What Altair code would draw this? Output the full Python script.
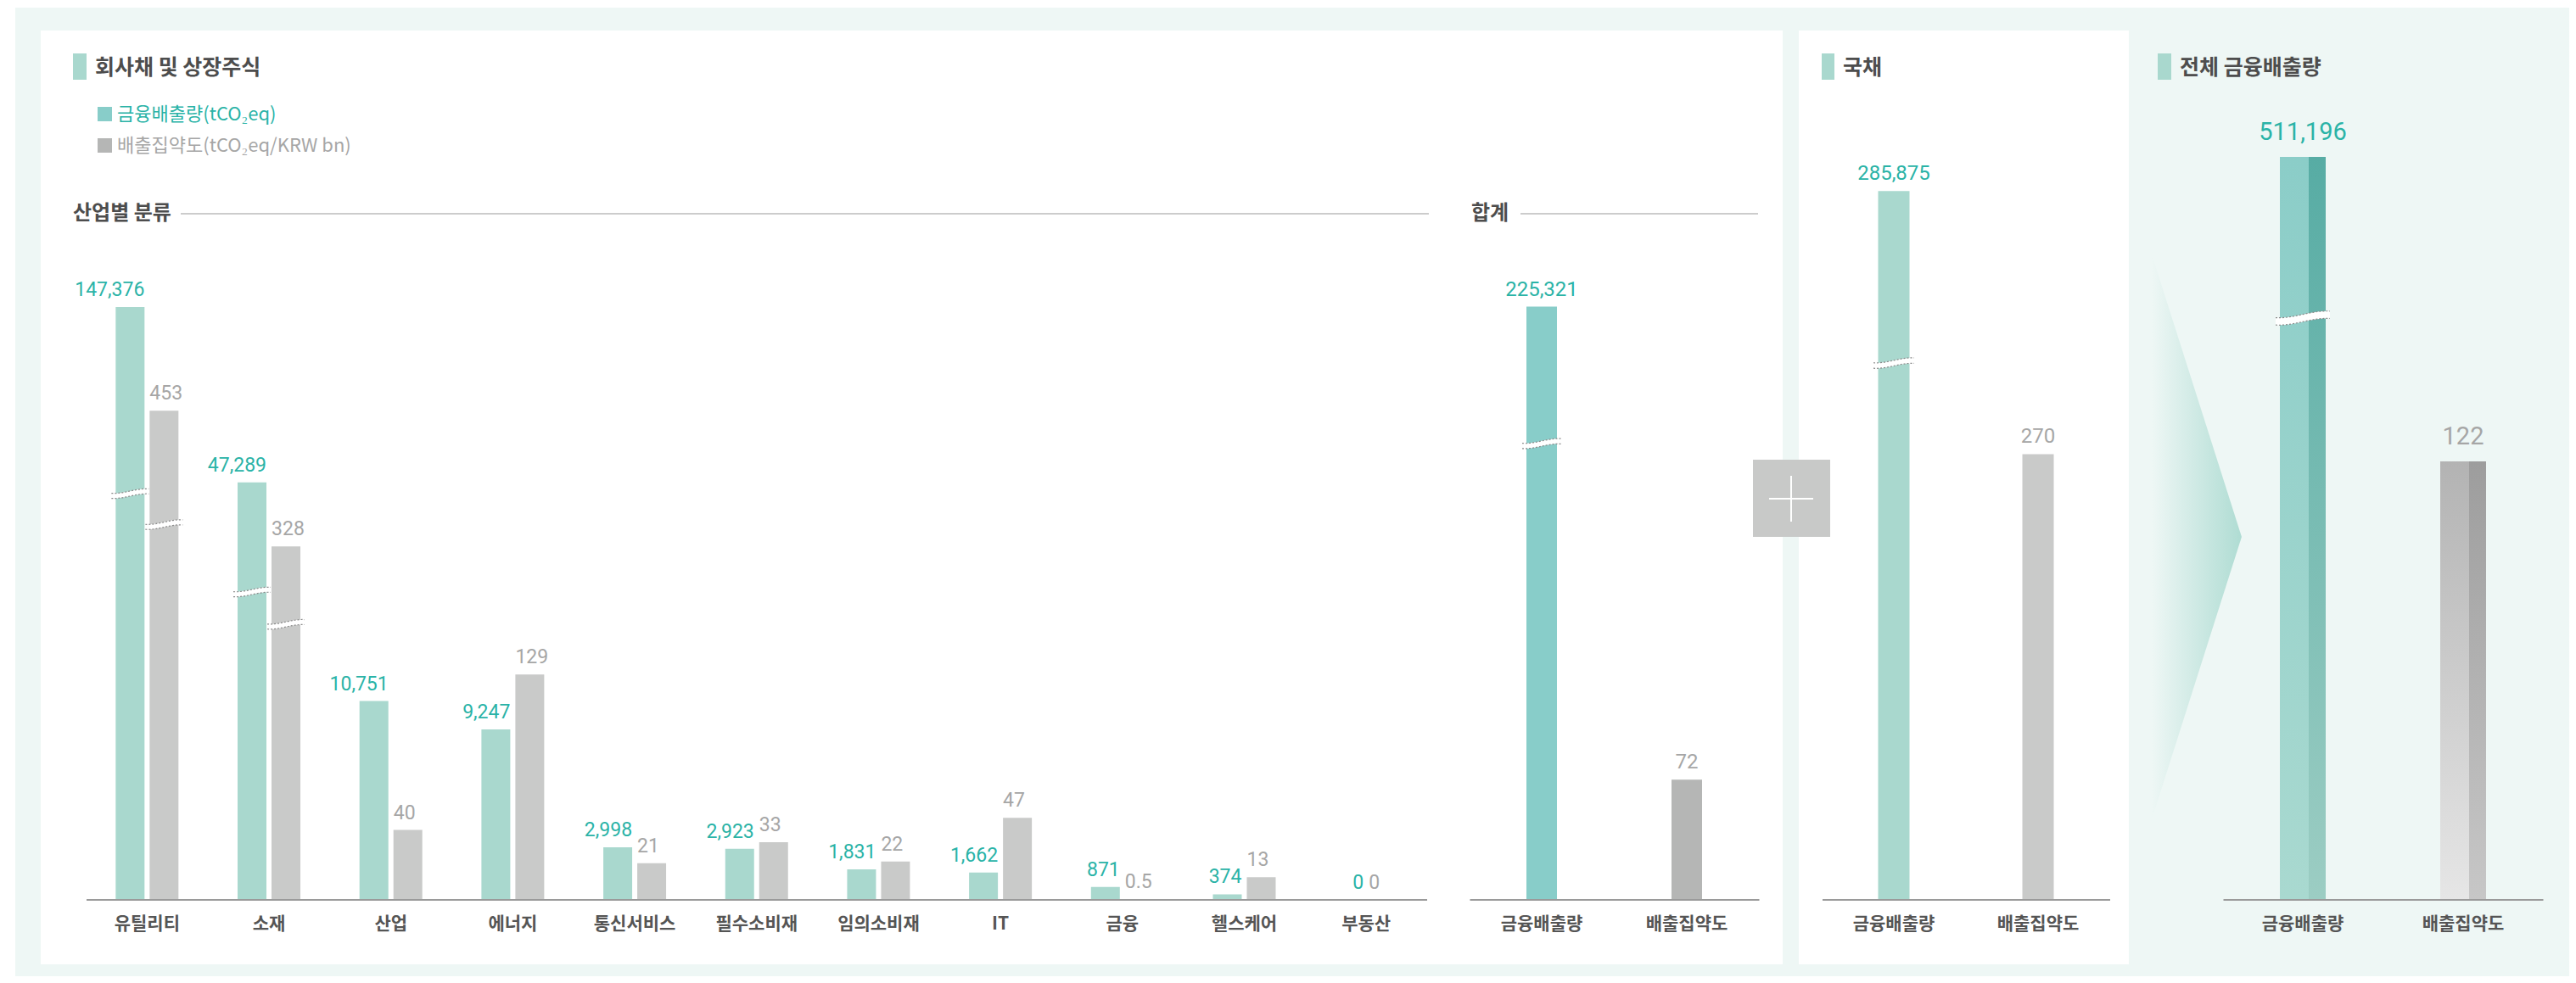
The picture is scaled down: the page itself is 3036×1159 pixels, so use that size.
import altair as alt
import pandas as pd

# ---------------- data ----------------
categories = ["유틸리티", "소재", "산업", "에너지", "통신서비스", "필수소비재",
              "임의소비재", "IT", "금융", "헬스케어", "부동산"]
emissions = [147376, 47289, 10751, 9247, 2998, 2923, 1831, 1662, 871, 374, 0]
intensity = [453, 328, 40, 129, 21, 33, 22, 47, 0.5, 13, 0]

# axis-break positions (value at which the bar is cut)
break_cats = ["유틸리티", "소재"]
break_emissions = [45400, 28700]
break_intensity = [348, 183]

measures = ["금융배출량", "배출집약도"]
corp_total = [225321, 72]
corp_total_break = 173300
gov_bonds = [285875, 270]
gov_break = 216500
overall = [511196, 122]
overall_break = 400350

# ---------------- style ----------------
W, H = 3020, 1143
def P(v):
    return v - 8

MINT_BG = "#eef7f5"
TEAL_BAR = "#a9d8ce"
GRAY_BAR = "#c9cac9"
TEAL_BAR2 = "#88cdc9"
GRAY_BAR2 = "#b5b6b5"
TEAL_TEXT = "#2ab3a7"
GRAY_TEXT = "#a6a6a6"
TITLE = "#4d4d4d"
LABEL = "#555555"
AXIS = "#9a9a9a"
SECTION = "#cccccc"
KFONT = "Noto Sans CJK KR"
NFONT = "Roboto"
BASE = 1061

BRK_FILL = "M-1,-0.015 C-0.3,0.025 0.3,-0.295 1,-0.255 L1,0.015 C0.3,-0.025 -0.3,0.295 -1,0.255 Z"
BRK_TOP = "M-1,-0.015 C-0.3,0.025 0.3,-0.295 1,-0.255"
BRK_BOT = "M-1,0.255 C-0.3,0.295 0.3,-0.025 1,0.015"
ARROW = "M-0.159,-1 L0.159,0 L-0.159,1 Z"


def rect(x1, y1, x2, y2, color):
    return alt.Chart().mark_rect(color=color).encode(
        x=alt.value(P(x1)), x2=alt.value(P(x2)), y=alt.value(P(y1)), y2=alt.value(P(y2)))


def hline(x1, x2, y, color, w=2):
    return alt.Chart().mark_rule(color=color, strokeWidth=w).encode(
        x=alt.value(P(x1)), x2=alt.value(P(x2)), y=alt.value(P(y)))


def vline(x, y1, y2, color, w=2):
    return alt.Chart().mark_rule(color=color, strokeWidth=w).encode(
        x=alt.value(P(x)), y=alt.value(P(y1)), y2=alt.value(P(y2)))


def label(txt, x, y, size, color, weight="bold", font=KFONT, align="left"):
    return alt.Chart().mark_text(text=txt, align=align, baseline="middle", font=font,
                                 fontSize=size, fontWeight=weight, color=color).encode(
        x=alt.value(P(x)), y=alt.value(P(y)))


def yscale(field, dom, heights):
    return alt.Y(field, scale=alt.Scale(domain=dom, range=[P(BASE) - h for h in heights],
                                        nice=False, zero=False), axis=None)


def breaks(df, x, y, size, xoff=0):
    fill = alt.Chart(df).mark_point(shape=BRK_FILL, filled=True, fill="white", opacity=1,
                                    size=size, strokeWidth=0, xOffset=xoff).encode(x=x, y=y)
    top = alt.Chart(df).mark_point(shape=BRK_TOP, filled=False, stroke="#8a8a8a", opacity=1,
                                   strokeDash=[2, 2], strokeWidth=1.2, size=size,
                                   xOffset=xoff).encode(x=x, y=y)
    bot = alt.Chart(df).mark_point(shape=BRK_BOT, filled=False, stroke="#8a8a8a", opacity=1,
                                   strokeDash=[2, 2], strokeWidth=1.2, size=size,
                                   xOffset=xoff).encode(x=x, y=y)
    return [fill, top, bot]


layers = []

# ---------------- backgrounds ----------------
layers += [
    rect(18, 9, 3028, 1158, MINT_BG),
    rect(48, 36, 2101, 1137, "white"),
    rect(2120, 36, 2509, 1137, "white"),
]

# arrow
arrow_grad = alt.LinearGradient(gradient="linear", x1=0, x2=1, y1=0, y2=0,
                                stops=[alt.GradientStop(color="#eef7f5", offset=0),
                                       alt.GradientStop(color="#afdcd3", offset=1)])
layers.append(alt.Chart().mark_point(shape=ARROW, filled=True, fill=arrow_grad, opacity=1,
                                     strokeWidth=0, size=666 ** 2).encode(
    x=alt.value(P(2589)), y=alt.value(P(633))))

# titles
layers += [
    rect(86, 63, 102, 94, TEAL_BAR), label("회사채 및 상장주식", 112, 80, 25, TITLE),
    rect(2147, 63, 2162, 94, TEAL_BAR), label("국채", 2172, 80, 25, TITLE),
    rect(2543, 63, 2559, 94, TEAL_BAR), label("전체 금융배출량", 2569, 80, 25, TITLE),
]

# legend
layers += [
    rect(115, 126, 132, 143, TEAL_BAR2), label("금융배출량(tCO₂eq)", 138, 135, 22, TEAL_TEXT, "normal"),
    rect(115, 163, 132, 180, GRAY_BAR2), label("배출집약도(tCO₂eq/KRW bn)", 138, 172, 22, GRAY_TEXT, "normal"),
]

# section headers
layers += [
    label("산업별 분류", 86, 252, 24, TITLE), hline(213, 1684, 252, SECTION),
    label("합계", 1734, 252, 24, TITLE), hline(1792, 2072, 252, SECTION),
]

# ---------------- industry bars ----------------
ind = pd.DataFrame({"category": categories, "emissions": emissions, "intensity": intensity})
brk = pd.DataFrame({"category": break_cats, "emissions": break_emissions, "intensity": break_intensity})

x_ind = alt.X("category:N", sort=categories,
              scale=alt.Scale(type="band", domain=categories, range=[P(101.5), P(1682)],
                              paddingInner=0, paddingOuter=0), axis=None)
y_em = yscale("emissions:Q", [0, 1000, 11000, 50000, 150000], [0, 17.5, 240, 511, 704])
y_in = yscale("intensity:Q", [0, 150, 300, 500], [0, 309, 381, 637])

layers += [
    alt.Chart(ind).mark_bar(width=34, xOffset=-20, color=TEAL_BAR).encode(x=x_ind, y=y_em, y2=alt.datum(0)),
    alt.Chart(ind).mark_bar(width=34, xOffset=20, color=GRAY_BAR).encode(x=x_ind, y=y_in, y2=alt.datum(0)),
]
layers += breaks(brk, x_ind, y_em, 44 ** 2, -20)
layers += breaks(brk, x_ind, y_in, 44 ** 2, 20)
layers += [
    alt.Chart(ind).mark_text(align="right", baseline="alphabetic", dx=-3, dy=-13, font=NFONT,
                             fontSize=23, color=TEAL_TEXT).encode(
        x=x_ind, y=y_em, text=alt.Text("emissions:Q", format=",")),
    alt.Chart(ind).mark_text(align="left", baseline="alphabetic", dx=3, dy=-13, font=NFONT,
                             fontSize=23, color=GRAY_TEXT).encode(
        x=x_ind, y=y_in, text=alt.Text("intensity:Q", format=",")),
    alt.Chart(ind).mark_text(baseline="middle", font=KFONT, fontSize=21, fontWeight="bold",
                             color=LABEL).encode(x=x_ind, y=alt.value(P(1090)), text="category:N"),
    hline(102, 1682, BASE, AXIS),
]


# ---------------- totals panels ----------------
def panel(values, brk_val, xr, em_max, em_h, in_max, in_h, bw, c_em, c_in, bsize,
          fsize=24, lab_dy=-13, gradient=False):
    out = []
    xs = alt.X("measure:N", sort=measures,
               scale=alt.Scale(type="band", domain=measures, range=[P(xr[0]), P(xr[1])],
                               paddingInner=0, paddingOuter=0), axis=None)
    em = pd.DataFrame({"measure": [measures[0]], "value": [values[0]]})
    it = pd.DataFrame({"measure": [measures[1]], "value": [values[1]]})
    bk = pd.DataFrame({"measure": [measures[0]], "value": [brk_val]})
    ys_em = yscale("value:Q", [0, em_max], [0, em_h])
    ys_in = yscale("value:Q", [0, in_max], [0, in_h])
    if gradient:
        def g(a, b):
            return alt.LinearGradient(gradient="linear", x1=0, x2=0, y1=0, y2=1,
                                      stops=[alt.GradientStop(color=a, offset=0),
                                             alt.GradientStop(color=b, offset=1)])
        out += [
            alt.Chart(em).mark_bar(width=bw, color=g("#8bcdc8", "#a9d9d0")).encode(x=xs, y=ys_em, y2=alt.datum(0)),
            alt.Chart(em).mark_bar(width=20, xOffset=17, color=g("#57aca4", "#9ccdc3")).encode(x=xs, y=ys_em, y2=alt.datum(0)),
            alt.Chart(it).mark_bar(width=bw, color=g("#b3b3b3", "#e6e6e6")).encode(x=xs, y=ys_in, y2=alt.datum(0)),
            alt.Chart(it).mark_bar(width=20, xOffset=17, color=g("#9d9d9d", "#c7c7c7")).encode(x=xs, y=ys_in, y2=alt.datum(0)),
        ]
    else:
        out += [
            alt.Chart(em).mark_bar(width=bw, color=c_em).encode(x=xs, y=ys_em, y2=alt.datum(0)),
            alt.Chart(it).mark_bar(width=bw, color=c_in).encode(x=xs, y=ys_in, y2=alt.datum(0)),
        ]
    out += breaks(bk, xs, ys_em, bsize)
    out += [
        alt.Chart(em).mark_text(baseline="alphabetic", dy=lab_dy, font=NFONT, fontSize=fsize,
                                color=TEAL_TEXT).encode(x=xs, y=ys_em, text=alt.Text("value:Q", format=",")),
        alt.Chart(it).mark_text(baseline="alphabetic", dy=lab_dy, font=NFONT, fontSize=fsize,
                                color=GRAY_TEXT).encode(x=xs, y=ys_in, text=alt.Text("value:Q", format=",")),
        alt.Chart(pd.DataFrame({"measure": measures})).mark_text(
            baseline="middle", font=KFONT, fontSize=21, fontWeight="bold", color=LABEL).encode(
            x=xs, y=alt.value(P(1090)), text="measure:N"),
        hline(xr[0] + 1, xr[1], BASE, AXIS),
    ]
    return out


layers += panel(corp_total, corp_total_break, (1731.5, 2073.5), 230000, 714, 100, 197, 36,
                TEAL_BAR2, GRAY_BAR2, 46 ** 2)
layers += panel(gov_bonds, gov_break, (2147, 2487), 300000, 877, 300, 584, 37,
                TEAL_BAR, GRAY_BAR, 48 ** 2)
layers += panel(overall, overall_break, (2619.5, 2997.5), 520000, 891, 130, 551, 54,
                TEAL_BAR, GRAY_BAR, 64 ** 2, fsize=29, lab_dy=-20, gradient=True)

# plus sign box
layers += [
    rect(2066, 542, 2157, 633, "#c8c9c8"),
    hline(2085, 2137, 588, "white", 2),
    vline(2111, 561, 615, "white", 2),
]

chart = alt.layer(*layers).resolve_scale(x="independent", y="independent").properties(
    width=W, height=H, padding=0, background="white",
    autosize=alt.AutoSizeParams(type="none"),
).configure_view(stroke=None)

chart.save("out.html", embed_options={"renderer": "svg", "actions": False})
